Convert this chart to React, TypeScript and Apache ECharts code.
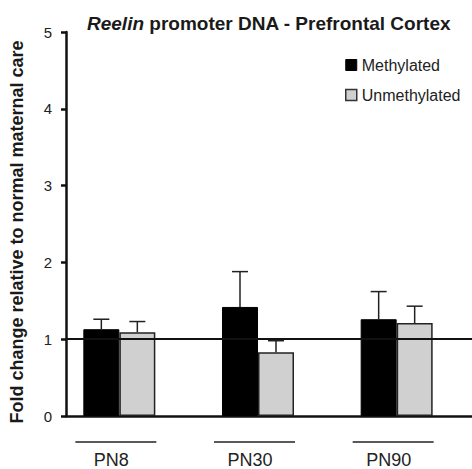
import React, { useEffect, useRef } from "react";
import * as echarts from "echarts";

const categories = ["PN8", "PN30", "PN90"];
const methylated = [1.13, 1.42, 1.26];
const methylatedErr = [1.26, 1.88, 1.62];
const unmethylated = [1.09, 0.83, 1.21];
const unmethylatedErr = [1.23, 0.98, 1.43];
const yTicks = [0, 1, 2, 3, 4, 5];

const FONT = "'Liberation Sans', Arial, sans-serif";
const BAR_W = 36;

export default function App() {
  const ref = useRef<HTMLDivElement>(null);
  useEffect(() => {
    if (!ref.current) return;
    const chart = echarts.init(ref.current, null, { renderer: "svg" });
    const errRender = (offsetSign: number, tops: number[]) => (params: any, api: any) => {
      const i = api.value(0);
      const base = api.coord([i, api.value(1)]);
      const top = api.coord([i, tops[i]]);
      const x = base[0] + offsetSign * (BAR_W / 2);
      return {
        type: "group",
        children: [
          { type: "line", shape: { x1: x, y1: base[1], x2: x, y2: top[1] }, style: { stroke: "#222", lineWidth: 1.5 } },
          { type: "line", shape: { x1: x - 8, y1: top[1], x2: x + 8, y2: top[1] }, style: { stroke: "#222", lineWidth: 1.5 } },
        ],
      };
    };
    chart.setOption({
      animation: false,
      backgroundColor: "#fff",
      textStyle: { fontFamily: FONT },
      title: {
        text: "{i|Reelin} promoter DNA - Prefrontal Cortex",
        left: 87,
        top: 14,
        padding: 0,
        textStyle: {
          fontFamily: FONT,
          fontWeight: "bold",
          fontSize: 19,
          color: "#1a1a1a",
          rich: { i: { fontStyle: "italic", fontWeight: "bold", fontSize: 19, color: "#1a1a1a", fontFamily: FONT } },
        },
      },
      legend: {
        orient: "vertical",
        left: 345,
        top: 57,
        padding: 0,
        itemWidth: 11,
        itemHeight: 11,
        itemGap: 14,
        icon: "rect",
        textStyle: { fontSize: 16, color: "#222", fontFamily: FONT },
        data: [
          { name: "Methylated", itemStyle: { color: "#000", borderColor: "#000", borderWidth: 1 } },
          { name: "Unmethylated", itemStyle: { color: "#d0d0d0", borderColor: "#333", borderWidth: 1.5 } },
        ],
      },
      grid: [
        { left: 61, right: 0, top: 32, bottom: 53 },
        { left: 50, right: 6, top: 32, bottom: 53 },
      ],
      xAxis: [
        {
          gridIndex: 0,
          type: "category",
          data: [""],
          axisLine: { lineStyle: { color: "#111", width: 2.5 } },
          axisTick: { show: false },
          axisLabel: { show: false },
        },
        {
          gridIndex: 1,
          type: "category",
          data: categories,
          axisLine: { show: false },
          axisTick: { show: false },
          axisLabel: { fontSize: 18, color: "#222", margin: 35, fontFamily: FONT, padding: [0, 16, 0, 0] },
        },
      ],
      yAxis: [
        {
          gridIndex: 0,
          type: "value",
          min: 0,
          max: 5,
          interval: 1,
          name: "Fold change relative to normal maternal care",
          nameLocation: "middle",
          nameRotate: 90,
          nameGap: 40,
          nameTextStyle: { fontSize: 18, fontWeight: "bold", color: "#1a1a1a", fontFamily: FONT, padding: [0, 16, 0, 0] },
          axisLine: { show: true, lineStyle: { color: "#111", width: 2.5 } },
          axisTick: { show: true, length: 5, lineStyle: { color: "#111", width: 2.5 } },
          axisLabel: { fontSize: 15, color: "#222", margin: 14, fontFamily: FONT, formatter: (v: number) => (yTicks.includes(v) ? String(v) : "") },
          splitLine: { show: false },
        },
        {
          gridIndex: 1,
          type: "value",
          min: 0,
          max: 5,
          interval: 1,
          show: false,
          splitLine: { show: false },
        },
      ],
      series: [
        {
          name: "ref",
          type: "line",
          xAxisIndex: 0,
          yAxisIndex: 0,
          data: [],
          silent: true,
          markLine: {
            symbol: "none",
            silent: true,
            label: { show: false },
            lineStyle: { color: "#111", width: 1.8, type: "solid" },
            data: [{ yAxis: 1 }],
          },
        },
        {
          name: "Methylated",
          type: "bar",
          xAxisIndex: 1,
          yAxisIndex: 1,
          barWidth: BAR_W,
          barGap: "0%",
          data: methylated,
          itemStyle: { color: "#000", borderColor: "#000", borderWidth: 1 },
          z: 3,
        },
        {
          name: "Unmethylated",
          type: "bar",
          xAxisIndex: 1,
          yAxisIndex: 1,
          barWidth: BAR_W,
          barGap: "0%",
          data: unmethylated,
          itemStyle: { color: "#d0d0d0", borderColor: "#222", borderWidth: 1.5 },
          z: 3,
        },
        {
          name: "errM",
          type: "custom",
          xAxisIndex: 1,
          yAxisIndex: 1,
          data: methylated.map((v, i) => [i, v]),
          renderItem: errRender(-1, methylatedErr),
          z: 4,
        },
        {
          name: "errU",
          type: "custom",
          xAxisIndex: 1,
          yAxisIndex: 1,
          data: unmethylated.map((v, i) => [i, v]),
          renderItem: errRender(1, unmethylatedErr),
          z: 4,
        },
      ],
    });
    const lines = categories.map((c, i) => {
      const p = chart.convertToPixel({ xAxisIndex: 1, yAxisIndex: 1 } as any, [i, 0]) as number[];
      return {
        type: "line",
        shape: { x1: p[0] - 44, y1: p[1] + 26, x2: p[0] + 37, y2: p[1] + 26 },
        style: { stroke: "#222", lineWidth: 1.5 },
      };
    });
    chart.setOption({ graphic: lines });
    return () => chart.dispose();
  }, []);
  return <div ref={ref} style={{ position: "absolute", left: 0, top: 0, width: 472, height: 469 }} />;
}
